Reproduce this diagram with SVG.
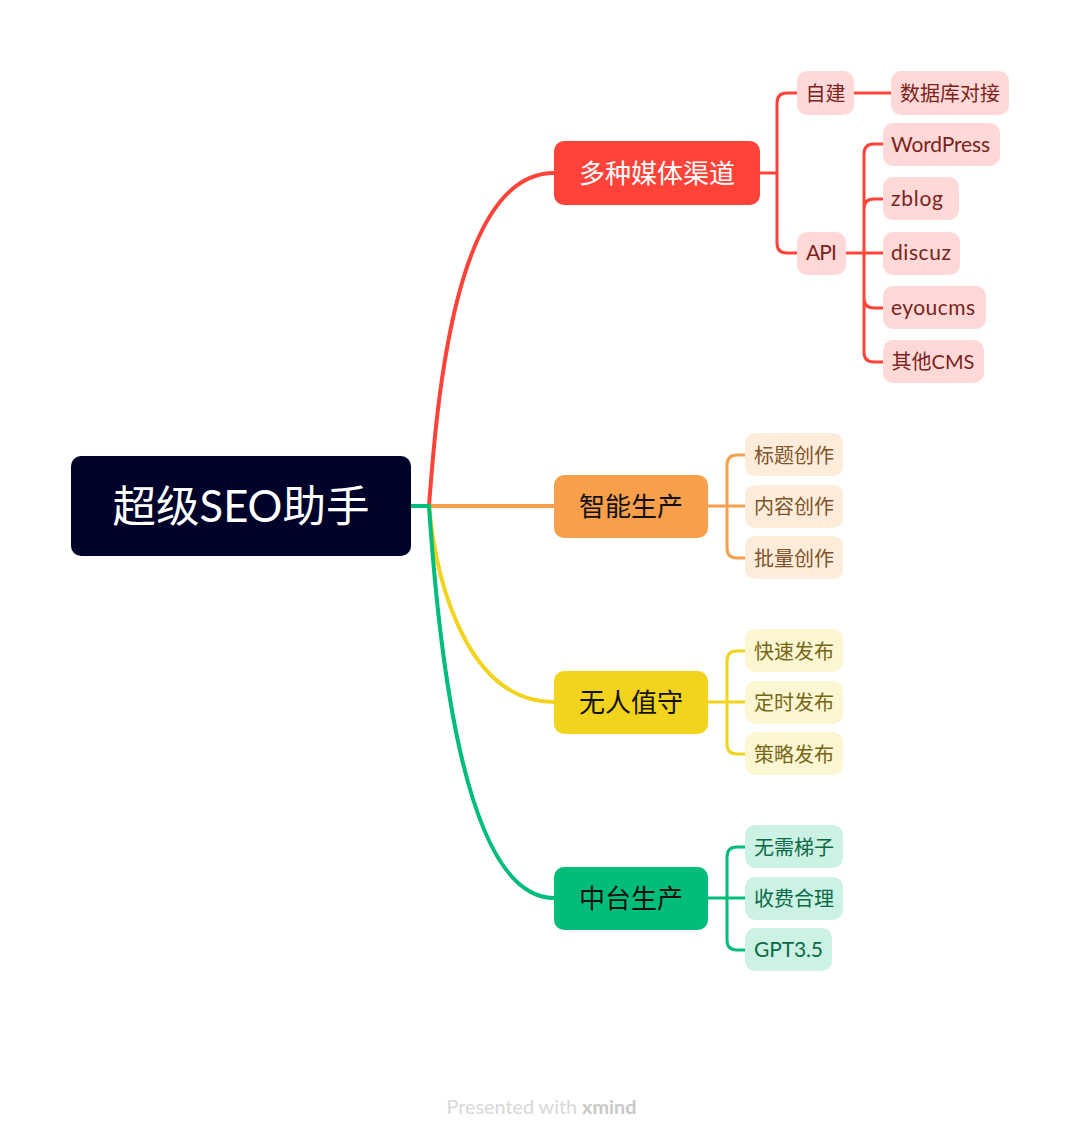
<svg xmlns="http://www.w3.org/2000/svg" width="1080" height="1143" viewBox="0 0 1080 1143">
<style>
text{font-family:"Lato","Noto Sans CJK SC",sans-serif;text-anchor:middle}
.c{fill:none;stroke-width:3;stroke-linecap:butt}
.m{fill:none;stroke-width:4}
.b{font-size:26px}
.s{font-size:20px}
.l{font-size:21px;text-anchor:start}
.red{stroke:#ff4339}.org{stroke:#f79f4b}.yel{stroke:#f2d31d}.grn{stroke:#00bd7a}
.rs{fill:#ffd9d7}.os{fill:#feecdb}.ys{fill:#fcf6d2}.gs{fill:#ccf2e4}
.rt{fill:#7a2320}.ot{fill:#7f5329}.yt{fill:#766716}.gt{fill:#0b6a48}
</style>
<rect width="1080" height="1143" fill="#ffffff"/>
<g id="connectors">
<path class="m red" d="M429 506C437 400 455 173 554 173"/>
<path class="m org" d="M429 506H554"/>
<path class="m yel" d="M429 506C437 590 470 702 554 702"/>
<path class="m grn" d="M429 506C438 640 462 898 554 898"/>
<path class="m grn" d="M411 506H431"/>
<path class="c red" d="M760 173H777M797 93H787Q777 93 777 103V243Q777 253 787 253H797"/>
<path class="c red" d="M854 93H891"/>
<path class="c red" d="M846 253H883M883 144H874Q864 144 864 154V352Q864 362 874 362H883M883 199H874Q864 199 864 209M883 308H874Q864 308 864 298"/>
<path class="c org" d="M708 506H745M745 455H737Q727 455 727 465V548Q727 558 737 558H745"/>
<path class="c yel" d="M708 702H745M745 651H737Q727 651 727 661V744Q727 754 737 754H745"/>
<path class="c grn" d="M708 898H745M745 847H737Q727 847 727 857V940Q727 950 737 950H745"/>
</g>
<g id="root"><rect x="71" y="456" width="340" height="100" rx="10" fill="#000229"/><text x="241" y="522" font-size="43.500" fill="#fff">超级SEO助手</text></g>
<g id="b1"><rect x="554" y="141" width="206" height="64" rx="10" fill="#ff4339"/><text class="b" x="657" y="183" fill="#fff">多种媒体渠道</text></g>
<g id="b2"><rect x="554" y="475" width="154" height="63" rx="10" fill="#f79f4b"/><text class="b" x="631" y="516" fill="#111">智能生产</text></g>
<g id="b3"><rect x="554" y="671" width="154" height="63" rx="10" fill="#f2d31d"/><text class="b" x="631" y="712" fill="#111">无人值守</text></g>
<g id="b4"><rect x="554" y="867" width="154" height="63" rx="10" fill="#00bd7a"/><text class="b" x="631" y="908" fill="#111">中台生产</text></g>
<g id="n1"><rect class="rs" x="797" y="71" width="57" height="44" rx="10"/><text class="s rt" x="825.500" y="101">自建</text></g>
<g id="n2"><rect class="rs" x="891" y="71" width="118" height="44" rx="10"/><text class="s rt" x="950" y="101">数据库对接</text></g>
<g id="n3"><rect class="rs" x="797" y="232" width="49" height="43" rx="10"/><text class="l rt" x="806" y="260" textLength="31">API</text></g>
<g id="n4"><rect class="rs" x="883" y="123" width="117" height="43" rx="10"/><text class="l rt" x="891" y="152" textLength="99">WordPress</text></g>
<g id="n5"><rect class="rs" x="883" y="177" width="76" height="43" rx="10"/><text class="l rt" x="891" y="206" textLength="52">zblog</text></g>
<g id="n6"><rect class="rs" x="883" y="232" width="77" height="43" rx="10"/><text class="l rt" x="891" y="260" textLength="60">discuz</text></g>
<g id="n7"><rect class="rs" x="883" y="286" width="103" height="43" rx="10"/><text class="l rt" x="891" y="315" textLength="84">eyoucms</text></g>
<g id="n8"><rect class="rs" x="883" y="340" width="101" height="43" rx="10"/><text class="s rt" x="933" y="369">其他CMS</text></g>
<g id="n9"><rect class="os" x="745" y="433" width="98" height="43" rx="10"/><text class="s ot" x="794" y="463">标题创作</text></g>
<g id="n10"><rect class="os" x="745" y="485" width="98" height="43" rx="10"/><text class="s ot" x="794" y="514">内容创作</text></g>
<g id="n11"><rect class="os" x="745" y="536" width="98" height="43" rx="10"/><text class="s ot" x="794" y="566">批量创作</text></g>
<g id="n12"><rect class="ys" x="745" y="629" width="98" height="43" rx="10"/><text class="s yt" x="794" y="659">快速发布</text></g>
<g id="n13"><rect class="ys" x="745" y="681" width="98" height="43" rx="10"/><text class="s yt" x="794" y="710">定时发布</text></g>
<g id="n14"><rect class="ys" x="745" y="732" width="98" height="43" rx="10"/><text class="s yt" x="794" y="762">策略发布</text></g>
<g id="n15"><rect class="gs" x="745" y="825" width="98" height="43" rx="10"/><text class="s gt" x="794" y="855">无需梯子</text></g>
<g id="n16"><rect class="gs" x="745" y="877" width="98" height="43" rx="10"/><text class="s gt" x="794" y="906">收费合理</text></g>
<g id="n17"><rect class="gs" x="745" y="928" width="87" height="43" rx="10"/><text class="l gt" x="754" y="957" textLength="69">GPT3.5</text></g>
<text x="541.500" y="1114" font-size="19.800" fill="#d8d8d8">Presented with <tspan font-weight="700" fill="#c8c8c8">xmind</tspan></text>
</svg>
